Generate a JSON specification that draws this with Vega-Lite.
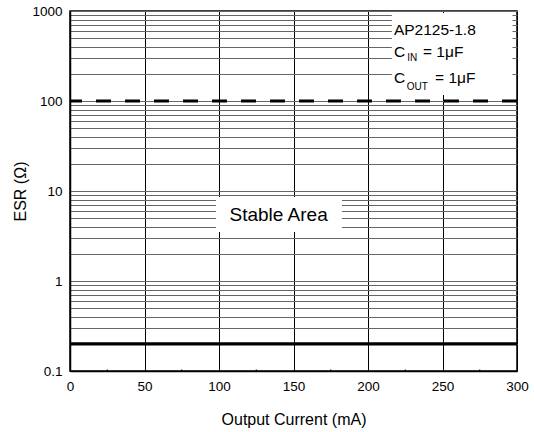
{
  "$schema": "https://vega.github.io/schema/vega-lite/v6.json",
  "width": 447,
  "height": 360,
  "autosize": {"type": "none"},
  "padding": {"left": 70, "top": 11, "right": 17, "bottom": 61},
  "background": "white",
  "config": {
    "font": "Liberation Sans",
    "view": {"stroke": "#000", "strokeWidth": 1.5},
    "axis": {
      "domainColor": "#000",
      "domainWidth": 1.5,
      "labelColor": "#000",
      "titleColor": "#000",
      "labelFont": "Liberation Sans",
      "titleFont": "Liberation Sans",
      "titleFontWeight": "normal",
      "labelFontSize": 13.5,
      "titleFontSize": 16,
      "labelFlush": false,
      "ticks": false
    }
  },
  "datasets": {
    "lines": [
      {"esr": 0.2, "style": "solid"},
      {"esr": 100, "style": "dashed"}
    ],
    "minor": [
      {"current": 25, "esr": 0.1, "esr2": 0.104},
      {"current": 75, "esr": 0.1, "esr2": 0.104},
      {"current": 125, "esr": 0.1, "esr2": 0.104},
      {"current": 175, "esr": 0.1, "esr2": 0.104},
      {"current": 225, "esr": 0.1, "esr2": 0.104},
      {"current": 275, "esr": 0.1, "esr2": 0.104}
    ],
    "boxes": [
      {"current": 216, "current2": 297, "esr": 116.6, "esr2": 950},
      {"current": 98, "current2": 182.5, "esr": 3.5, "esr2": 8.6}
    ],
    "labels": [
      {"text": "AP2125-1.8", "current": 217.4, "esr": 541},
      {"text": "C", "current": 217.4, "esr": 308},
      {"text": "= 1μF", "current": 236.9, "esr": 308},
      {"text": "C", "current": 217.4, "esr": 158.5},
      {"text": "= 1μF", "current": 245, "esr": 158.5}
    ],
    "subs": [
      {"text": "IN", "current": 226.3, "esr": 275},
      {"text": "OUT", "current": 226.0, "esr": 130.9}
    ],
    "stable": [
      {"text": "Stable Area", "current": 140, "esr": 5.4}
    ]
  },
  "layer": [
    {
      "data": {"name": "minor"},
      "mark": {"type": "rule", "color": "#000", "strokeWidth": 1},
      "encoding": {
        "x": {
          "field": "current",
          "type": "quantitative",
          "scale": {"domain": [0, 300], "nice": false, "zero": false},
          "axis": {
            "title": "Output Current (mA)",
            "values": [0, 50, 100, 150, 200, 250, 300],
            "grid": true,
            "gridColor": "#000",
            "gridWidth": 1,
            "labelPadding": 8,
            "titlePadding": 19
          }
        },
        "y": {
          "field": "esr",
          "type": "quantitative",
          "scale": {"type": "log", "domain": [0.1, 1000], "nice": false},
          "axis": {
            "title": "ESR (Ω)",
            "values": [0.1, 0.2, 0.3, 0.4, 0.5, 0.6, 0.7, 0.8, 0.9, 1, 2, 3, 4, 5, 6, 7, 8, 9, 10, 20, 30, 40, 50, 60, 70, 80, 90, 100, 200, 300, 400, 500, 600, 700, 800, 900, 1000],
            "labelExpr": "datum.value==0.1?'0.1':datum.value==1?'1':datum.value==10?'10':datum.value==100?'100':datum.value==1000?'1000':''",
            "grid": true,
            "gridColor": "#666",
            "gridWidth": 1,
            "labelPadding": 8,
            "titlePadding": 3
          }
        },
        "y2": {"field": "esr2"}
      }
    },
    {
      "data": {"name": "lines"},
      "mark": {"type": "rule", "color": "#000", "strokeWidth": 3.2},
      "encoding": {
        "y": {"field": "esr", "type": "quantitative"},
        "strokeDash": {
          "field": "style",
          "type": "nominal",
          "scale": {"domain": ["solid", "dashed"], "range": [[1, 0], [15, 14]]},
          "legend": null
        }
      }
    },
    {
      "data": {"name": "boxes"},
      "mark": {"type": "rect", "color": "white"},
      "encoding": {
        "x": {"field": "current", "type": "quantitative"},
        "x2": {"field": "current2"},
        "y": {"field": "esr", "type": "quantitative"},
        "y2": {"field": "esr2"}
      }
    },
    {
      "data": {"name": "labels"},
      "mark": {"type": "text", "align": "left", "baseline": "alphabetic", "fontSize": 15.5, "color": "#000"},
      "encoding": {
        "x": {"field": "current", "type": "quantitative"},
        "y": {"field": "esr", "type": "quantitative"},
        "text": {"field": "text"}
      }
    },
    {
      "data": {"name": "subs"},
      "mark": {"type": "text", "align": "left", "baseline": "alphabetic", "fontSize": 10, "color": "#000"},
      "encoding": {
        "x": {"field": "current", "type": "quantitative"},
        "y": {"field": "esr", "type": "quantitative"},
        "text": {"field": "text"}
      }
    },
    {
      "data": {"name": "stable"},
      "mark": {"type": "text", "align": "center", "baseline": "middle", "fontSize": 19, "color": "#000"},
      "encoding": {
        "x": {"field": "current", "type": "quantitative"},
        "y": {"field": "esr", "type": "quantitative"},
        "text": {"field": "text"}
      }
    }
  ]
}
